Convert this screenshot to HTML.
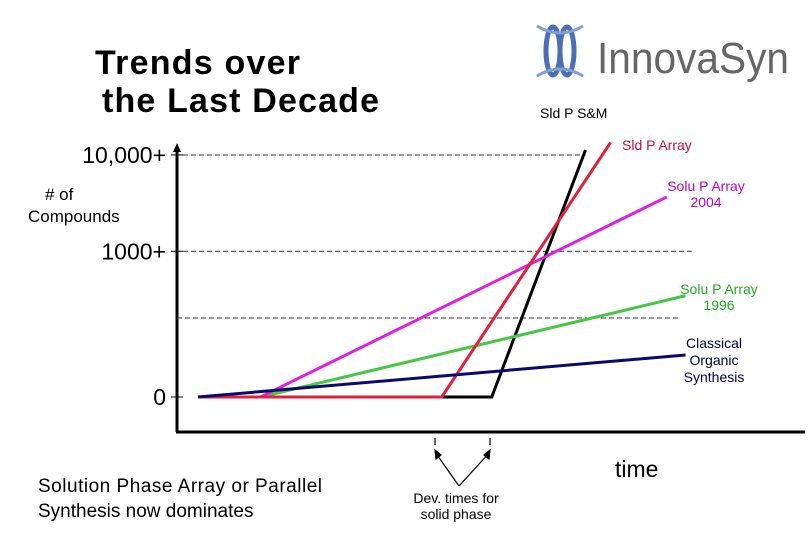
<!DOCTYPE html>
<html><head><meta charset="utf-8"><style>
body{margin:0;background:#fff;width:810px;height:540px;overflow:hidden;font-family:"Liberation Sans",sans-serif}
svg{display:block}
</style></head><body>
<svg id="chart" width="810" height="540" font-family="Liberation Sans, sans-serif">
<text x="95" y="74" font-size="34" font-weight="bold" textLength="205">Trends over</text>
<text x="102" y="112" font-size="34" font-weight="bold" textLength="277">the Last Decade</text>
<g>
<ellipse cx="553" cy="51" rx="7" ry="24" fill="none" stroke="#4a6fb5" stroke-width="5"/>
<ellipse cx="567" cy="51" rx="7" ry="24" fill="none" stroke="#4a6fb5" stroke-width="5"/>
<path d="M537 26 Q560 40 583 26 M537 76 Q560 62 583 76" fill="none" stroke="#7f9fd0" stroke-width="3"/>
<text x="597" y="73" font-size="44" fill="#666" textLength="192" lengthAdjust="spacingAndGlyphs">InnovaSyn</text>
</g>
<g id="axes">
<line x1="177" y1="432" x2="177" y2="148" stroke="#000" stroke-width="3"/>
<polygon points="173,152 177,143 181,152" fill="#000"/>
<line x1="176" y1="432" x2="805" y2="432" stroke="#000" stroke-width="3"/>
</g>
<g id="ticks"></g>
<g id="series"></g>
<text x="28" y="222" font-size="17"><tspan x="45" dy="-22">#  of</tspan><tspan x="28" dy="22">Compounds</tspan></text>
<text x="615" y="477" font-size="23">time</text>
<text x="38" y="492" font-size="19"><tspan x="38" textLength="284">Solution Phase Array or Parallel</tspan><tspan x="38" dy="25">Synthesis now dominates</tspan></text>
<g stroke="#000" stroke-width="1.2" fill="none">
<line x1="435" y1="438" x2="435" y2="445"/><line x1="490" y1="438" x2="490" y2="445"/>
<line x1="435" y1="452" x2="459" y2="486"/><line x1="490" y1="452" x2="459" y2="486"/>
<polygon points="435,450 436,459 441,455" fill="#000"/><polygon points="490,450 489,459 484,455" fill="#000"/>
</g>
<text x="456" y="503" font-size="14" text-anchor="middle"><tspan x="456">Dev. times for</tspan><tspan x="456" dy="16">solid phase</tspan></text>
<text x="540" y="118" font-size="14">Sld P S&amp;M</text>
<text x="622" y="150" font-size="14" fill="#c8103c">Sld P Array</text>
<text x="706" y="191" font-size="14" fill="#c000c0" text-anchor="middle"><tspan x="706">Solu P Array</tspan><tspan x="706" dy="16">2004</tspan></text>
<text x="719" y="294" font-size="14" fill="#22aa22" text-anchor="middle"><tspan x="719">Solu P Array</tspan><tspan x="719" dy="16">1996</tspan></text>
<text x="714" y="348" font-size="14" fill="#000044" text-anchor="middle"><tspan x="714">Classical</tspan><tspan x="714" dy="17">Organic</tspan><tspan x="714" dy="17">Synthesis</tspan></text>
</svg>
<script>
// time units 0..100, level units 0..100 (0 = "0", ~59 = "1000+", ~98 = "10,000+")
const tickLabels = ["0", "", "1000+", "10,000+"];
const tickValues = [0, 32, 59, 98];
const tickEnds = [0, 77, 79, 62];
const classicalT = [0, 78];  const classicalV = [0, 17];
const solu1996T = [10, 78];  const solu1996V = [0, 41];
const solu2004T = [10, 75];  const solu2004V = [0, 81];
const sldArrayT = [0, 39, 66]; const sldArrayV = [0, 0, 103];
const sldSMT = [39, 47, 62]; const sldSMV = [0, 0, 100];
const X0 = 198, X1 = 823, Y0 = 397, Y1 = 150;
const xs = t => X0 + (X1 - X0) * t / 100;
const ys = v => Y0 + (Y1 - Y0) * v / 100;
const NS = "http://www.w3.org/2000/svg";
const tg = document.getElementById("ticks");
tickValues.forEach((v, i) => {
  const y = ys(v);
  const tk = document.createElementNS(NS, "line");
  tk.setAttribute("x1", 171); tk.setAttribute("x2", 183); tk.setAttribute("y1", y); tk.setAttribute("y2", y);
  tk.setAttribute("stroke", "#000");
  
  
  if (tickLabels[i]) tg.appendChild(tk);
  if (tickEnds[i] > 0) {
    const d = document.createElementNS(NS, "line");
    d.setAttribute("x1", tickLabels[i] ? 183 : 177); d.setAttribute("x2", xs(tickEnds[i])); d.setAttribute("y1", y); d.setAttribute("y2", y);
    d.setAttribute("stroke", "#333"); d.setAttribute("stroke-dasharray", "5,3");
    
    
    tg.appendChild(d);
  }
  if (tickLabels[i]) {
    const tx = document.createElementNS(NS, "text");
    tx.setAttribute("x", 166); tx.setAttribute("y", y + 8);
    tx.setAttribute("text-anchor", "end"); tx.setAttribute("font-size", "23");
    tx.textContent = tickLabels[i];
    
    
    tg.appendChild(tx);
  }
});
const sg = document.getElementById("series");
function draw(T, V, color, name) {
  const p = document.createElementNS(NS, "polyline");
  p.setAttribute("points", T.map((t, i) => xs(t) + "," + ys(V[i])).join(" "));
  p.setAttribute("fill", "none"); p.setAttribute("stroke", color); p.setAttribute("stroke-width", "3");
  
  
  sg.appendChild(p);
}
draw(sldSMT, sldSMV, "#000000", "line-sld-p-sm");
draw(solu1996T, solu1996V, "#44c844", "line-solu-1996");
draw(solu2004T, solu2004V, "#e020e0", "line-solu-2004");
draw(sldArrayT, sldArrayV, "#e0203c", "line-sld-p-array");
draw(classicalT, classicalV, "#0a0a6e", "line-classical");
</script>
</body></html>
